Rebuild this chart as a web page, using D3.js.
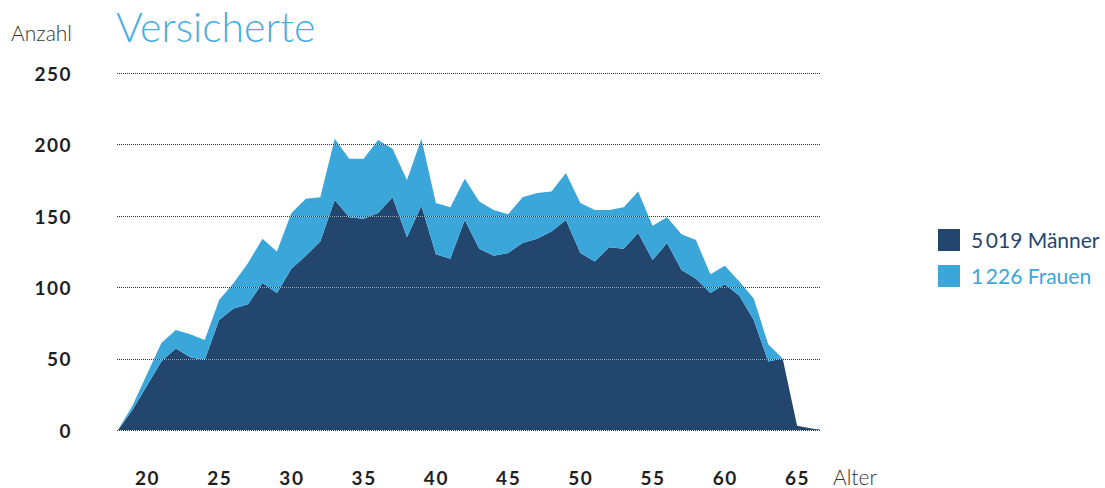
<!DOCTYPE html>
<html lang="de">
<head>
<meta charset="utf-8">
<script src="https://cdn.jsdelivr.net/npm/d3@7/dist/d3.min.js"></script>
<style>
  html, body { margin: 0; padding: 0; background: #fff; }
  svg { display: block; font-family: Lato, "Open Sans", "DejaVu Sans", sans-serif; }
</style>
</head>
<body>
<svg id="chart" width="1105" height="488"></svg>
<script>
// Insured persons by age (Alter), split by sex
const ages = d3.range(18, 68);
const maenner = [0, 14, 31, 48, 57, 51, 49, 77, 85, 88,
                 103, 96, 113, 122, 132, 161, 149, 148, 152, 163,
                 135, 157, 123, 120, 147, 127, 122, 124, 131, 134,
                 139, 147, 124, 118, 128, 127, 138, 119, 131, 112,
                 106, 96, 102, 94, 77, 48, 50, 3, 1, 0];
const frauen = [0, 3, 8, 13, 13, 16, 14, 14, 18, 29,
                31, 29, 39, 40, 31, 43, 41, 42, 51, 34,
                40, 47, 36, 36, 29, 33, 32, 27, 32, 32,
                28, 33, 35, 36, 26, 29, 29, 24, 18, 25,
                27, 13, 13, 10, 15, 12, 0, 0, 0, 0];
const yTicks = [0, 50, 100, 150, 200, 250];
const xTicks = [20, 25, 30, 35, 40, 45, 50, 55, 60, 65];
const seriesNames = ["Männer", "Frauen"];
const colors = ["#23466f", "#3ba6da"];

const rows = ages.map((a, i) => ({ alter: a, "Männer": maenner[i], "Frauen": frauen[i] }));

const svg = d3.select("#chart");
const plot = { left: 117, right: 820, top: 73, bottom: 430 };

const x = d3.scaleLinear().domain([18, 67]).range([118, 826]);
const y = d3.scaleLinear().domain([0, 250]).range([plot.bottom, plot.top]);

svg.append("defs").append("clipPath").attr("id", "plotClip")
  .append("rect")
  .attr("x", plot.left).attr("y", plot.top - 5)
  .attr("width", plot.right - plot.left).attr("height", plot.bottom - plot.top + 5);

// stacked areas
const stack = d3.stack().keys(seriesNames);
const layers = stack(rows);
const area = d3.area()
  .x(d => x(d.data.alter))
  .y0(d => y(d[0]))
  .y1(d => y(d[1]));

svg.append("g").attr("clip-path", "url(#plotClip)")
  .selectAll("path").data(layers).join("path")
  .attr("d", area)
  .attr("fill", (d, i) => colors[i]);

// dotted grid lines on top of the areas
const grid = svg.append("g");
yTicks.forEach(t => {
  grid.append("line")
    .attr("x1", plot.left).attr("x2", plot.right)
    .attr("y1", Math.round(y(t)) + 0.5).attr("y2", Math.round(y(t)) + 0.5)
    .attr("stroke", "#ffffff").attr("stroke-opacity", 0.55).attr("stroke-width", 1);
  grid.append("line")
    .attr("x1", plot.left).attr("x2", plot.right)
    .attr("y1", Math.round(y(t)) + 0.5).attr("y2", Math.round(y(t)) + 0.5)
    .attr("stroke", "#333").attr("stroke-width", 1)
    .attr("stroke-dasharray", "1,1");
});

// y axis labels
const yAxis = d3.axisLeft(y).tickValues(yTicks).tickSize(0).tickPadding(0);
const gy = svg.append("g").attr("transform", "translate(72,0)").call(yAxis);
gy.select(".domain").remove();
gy.selectAll("text")
  .attr("font-family", "Lato, sans-serif")
  .attr("font-size", 19).attr("font-weight", 700).attr("fill", "#1f1f1f")
  .attr("letter-spacing", 1.5)
  .attr("dy", "0.38em");

// x axis labels
const xAxis = d3.axisBottom(x).tickValues(xTicks).tickSize(0).tickPadding(0);
const gx = svg.append("g").attr("transform", "translate(0,471)").call(xAxis);
gx.select(".domain").remove();
gx.selectAll("text")
  .attr("font-family", "Lato, sans-serif")
  .attr("font-size", 19).attr("font-weight", 700).attr("fill", "#1f1f1f")
  .attr("letter-spacing", 1.5);

// axis titles
svg.append("text").attr("x", 72).attr("y", 41).attr("text-anchor", "end")
  .attr("font-size", 21).attr("font-weight", 300).attr("fill", "#333")
  .text("Anzahl");
svg.append("text").attr("x", 833).attr("y", 485)
  .attr("font-size", 21).attr("font-weight", 300).attr("fill", "#333")
  .text("Alter");

// title
svg.append("text").attr("x", 116).attr("y", 42)
  .attr("font-size", 41).attr("font-weight", 300).attr("fill", "#4aaee0")
  .text("Versicherte");

// legend with totals
const fmt = d3.formatLocale({ decimal: ",", thousands: "\u2009", grouping: [3], currency: ["", " CHF"] }).format(",d");
const totals = [d3.sum(maenner), d3.sum(frauen)];
const legend = svg.append("g").attr("transform", "translate(938,229)");
seriesNames.forEach((name, i) => {
  const g = legend.append("g").attr("transform", `translate(0,${i * 36})`);
  g.append("rect").attr("width", 22).attr("height", 22).attr("fill", colors[i]);
  g.append("text").attr("x", 33).attr("y", 19)
    .attr("font-size", 21).attr("fill", colors[i])
    .text(`${fmt(totals[i])} ${name}`);
});
</script>
</body>
</html>
